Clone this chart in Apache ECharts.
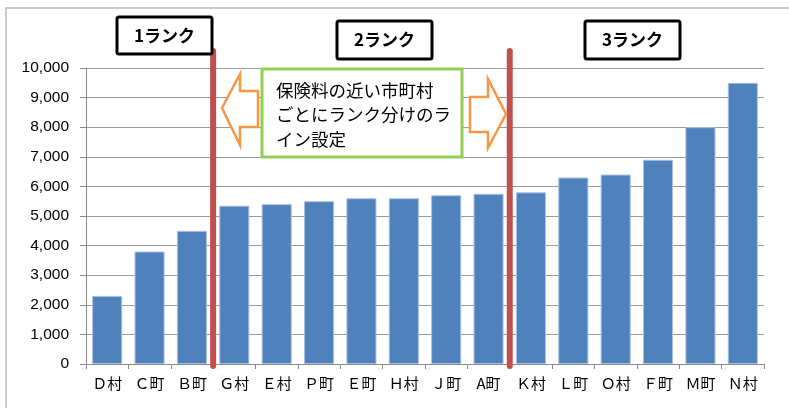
<!DOCTYPE html>
<html><head><meta charset="utf-8">
<script src="https://cdn.jsdelivr.net/npm/echarts@6/dist/echarts.min.js"></script>
<style>html,body{margin:0;padding:0;background:#fff}#c{width:789px;height:408px}</style>
</head><body><div id="c"></div>
<script>
const categories = ['Ｄ村','Ｃ町','Ｂ町','Ｇ村','Ｅ村','Ｐ町','Ｅ町','Ｈ村','Ｊ町','A町','Ｋ村','Ｌ町','Ｏ村','Ｆ町','Ｍ町','Ｎ村'];
const values = [2300,3800,4500,5350,5400,5500,5600,5600,5700,5750,5800,6300,6400,6900,8000,9500];
const rankLabels = ['1ランク','2ランク','3ランク'];
const rankBoundaries = [3, 10]; // index of first category of next rank
const noteLines = ['保険料の近い市町村','ごとにランク分けのラ','イン設定'];

const chart = echarts.init(document.getElementById('c'));
const font = '"Noto Sans CJK JP","Liberation Sans",Arial,sans-serif';
chart.setOption({
  animation:false,
  grid:{left:86,right:25,top:68,bottom:44},
  xAxis:{type:'category',data:categories,
    axisLine:{lineStyle:{color:'#888',width:1}},
    axisTick:{show:true,length:5,lineStyle:{color:'#888'}},
    axisLabel:{color:'#000',fontSize:15,fontFamily:font,margin:12}},
  yAxis:{type:'value',min:0,max:10000,interval:1000,
    axisLine:{show:true,lineStyle:{color:'#888'}},
    axisTick:{show:true,length:6,lineStyle:{color:'#888'}},
    splitLine:{lineStyle:{color:'#999',width:1}},
    axisLabel:{color:'#000',fontSize:15.5,fontFamily:'"Liberation Sans",Arial,sans-serif',margin:17,
      formatter:v=>v.toLocaleString('en-US')}},
  series:[{type:'bar',data:values,barCategoryGap:'29%',
    itemStyle:{color:'#4f81bd',borderColor:'#a9c1e0',borderWidth:1}}]
});

function build(){
  const g=[];
  // outer border
  g.push({type:'polyline',shape:{points:[[6,410],[6,8],[790,8]]},style:{stroke:'#bbb',lineWidth:1.5,fill:null}});
  // boundary lines between categories
  rankBoundaries.forEach(i=>{
    const a=chart.convertToPixel({xAxisIndex:0},i-1);
    const b=chart.convertToPixel({xAxisIndex:0},i);
    const x=(a+b)/2;
    const yb=chart.convertToPixel({yAxisIndex:0},0);
    g.push({type:'line',z:10,shape:{x1:x,y1:51,x2:x,y2:yb+2},style:{stroke:'#c0504d',lineWidth:6,lineCap:'round'}});
  });
  // rank label boxes
  const boxes=[[117,17,95,37],[337,21,95,38],[585,21,95,38]];
  boxes.forEach((b,i)=>{
    g.push({type:'rect',z:11,shape:{x:b[0],y:b[1],width:b[2],height:b[3],r:2},style:{fill:'#fff',stroke:'#000',lineWidth:3}});
    g.push({type:'text',z:12,x:b[0]+b[2]/2,y:b[1]+b[3]/2,style:{text:rankLabels[i],fontSize:17,fontWeight:'bold',fontFamily:font,fill:'#000',align:'center',verticalAlign:'middle'}});
  });
  // note box
  g.push({type:'rect',z:11,shape:{x:262,y:69,width:200,height:88},style:{fill:'#fff',stroke:'#92d050',lineWidth:3}});
  g.push({type:'text',z:12,x:276,y:78,style:{text:noteLines.join('\n'),fontSize:17.5,lineHeight:24.5,fontFamily:font,fill:'#000'}});
  // arrows
  g.push({type:'polygon',z:11,shape:{points:[[222,108],[240,74],[240,91],[258,91],[258,127],[240,127],[240,145]]},style:{fill:'#fff',stroke:'#f79646',lineWidth:2.5}});
  g.push({type:'polygon',z:11,shape:{points:[[470,97],[488,97],[488,79],[506,114],[488,148],[488,132],[470,132]]},style:{fill:'#fff',stroke:'#f79646',lineWidth:2.5}});
  chart.setOption({graphic:g});
}
build();
</script></body></html>
